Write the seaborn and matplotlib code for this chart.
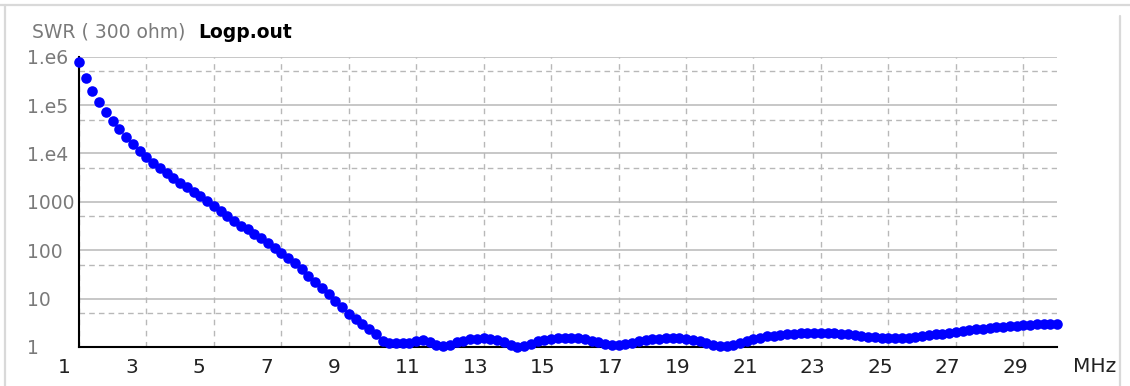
import numpy as np
import pandas as pd
import seaborn as sns
import matplotlib.pyplot as plt
import matplotlib.transforms as mtransforms
from matplotlib.lines import Line2D

# Frequency sweep 1.0 .. 30.0 MHz in 0.2 MHz steps
freq_mhz = [round(1.0 + 0.2 * i, 1) for i in range(146)]

swr = [
    776000, 363000, 195000, 115000, 70800, 47900, 32400, 21900, 15800, 11500,   # 1.0 - 2.8
    8500, 6460, 5010, 3980, 3090, 2450, 2000, 1580, 1320, 1020,                 # 3.0 - 4.8
    832, 646, 501, 398, 324, 269, 219, 178, 141, 112,                           # 5.0 - 6.8
    87, 69, 54, 40, 29, 21.9, 16.6, 12.3, 9.1, 6.6,                             # 7.0 - 8.8
    4.9, 3.8, 3.0, 2.34, 1.86, 1.35, 1.22, 1.21, 1.20, 1.22,                    # 9.0 - 10.8
    1.30, 1.38, 1.25, 1.10, 1.06, 1.12, 1.25, 1.35, 1.44, 1.48,                 # 11.0 - 12.8
    1.50, 1.48, 1.38, 1.25, 1.10, 1.02, 1.05, 1.18, 1.30, 1.40,                 # 13.0 - 14.8
    1.47, 1.50, 1.50, 1.50, 1.50, 1.46, 1.36, 1.24, 1.16, 1.12,                 # 15.0 - 16.8
    1.12, 1.15, 1.22, 1.30, 1.38, 1.44, 1.47, 1.50, 1.50, 1.50,                 # 17.0 - 18.8
    1.46, 1.40, 1.32, 1.22, 1.12, 1.04, 1.03, 1.10, 1.22, 1.35,                 # 19.0 - 20.8
    1.46, 1.56, 1.65, 1.72, 1.78, 1.84, 1.90, 1.94, 1.97, 1.98,                 # 21.0 - 22.8
    1.98, 1.97, 1.95, 1.90, 1.85, 1.77, 1.68, 1.62, 1.58, 1.56,                 # 23.0 - 24.8
    1.55, 1.55, 1.55, 1.56, 1.60, 1.66, 1.74, 1.82, 1.90, 1.98,                 # 25.0 - 26.8
    2.06, 2.14, 2.22, 2.30, 2.38, 2.46, 2.54, 2.62, 2.70, 2.78,                 # 27.0 - 28.8
    2.85, 2.91, 2.96, 3.00, 3.03, 3.05,                                         # 29.0 - 30.0
]

x_ticks = [1, 3, 5, 7, 9, 11, 13, 15, 17, 19, 21, 23, 25, 27, 29]
y_ticks = [1, 10, 100, 1000, 1e4, 1e5, 1e6]
y_tick_labels = ["1", "10", "100", "1000", "1.e4", "1.e5", "1.e6"]
y_half_ticks = [5, 50, 500, 5000, 5e4, 5e5]

df = pd.DataFrame({"MHz": freq_mhz, "SWR": swr})

sns.set_style("white")
plt.rcParams["font.family"] = ["DejaVu Sans"]

W, H = 1130, 386
fig = plt.figure(figsize=(W / 100, H / 100), dpi=100)
ax = fig.add_axes([79 / W, 1 - 347 / H, (1057 - 79) / W, (347 - 56.7) / H])

grid_col = "#b8b8b8"
ax.set_yscale("log")
ax.set_xlim(1, 30)
ax.set_ylim(1, 1e6)

ax.set_xticks(x_ticks)
ax.set_xticklabels([str(v) for v in x_ticks])
ax.set_yticks(y_ticks)
ax.set_yticklabels(y_tick_labels)
ax.set_yticks(y_half_ticks, minor=True)
ax.yaxis.set_minor_formatter(plt.NullFormatter())

ax.grid(True, which="major", axis="y", color=grid_col, lw=1.1, ls="-")
ax.grid(True, which="minor", axis="y", color=grid_col, lw=1.0, ls=(0, (4, 3)))
ax.grid(True, which="major", axis="x", color=grid_col, lw=1.0, ls=(0, (4, 4)))
ax.set_axisbelow(True)

ax.tick_params(axis="both", which="both", length=0)
ax.tick_params(axis="y", pad=52 * 0.72, labelsize=13.5, labelcolor="#7a7a7a")
ax.tick_params(axis="x", pad=8, labelsize=14.5, labelcolor="#222222")
for lab in ax.get_yticklabels():
    lab.set_ha("left")
shift = mtransforms.ScaledTranslation(-21 / 100, 0, fig.dpi_scale_trans)
for lab in ax.get_xticklabels():
    lab.set_ha("left")
    lab.set_transform(lab.get_transform() + shift)

for side in ("top", "right"):
    ax.spines[side].set_visible(False)
for side in ("left", "bottom"):
    ax.spines[side].set_color("black")
    ax.spines[side].set_linewidth(1.5)

sns.scatterplot(data=df, x="MHz", y="SWR", ax=ax, color="#0000ff", s=58,
                linewidth=0, clip_on=False, zorder=4, legend=False)
ax.set_xlabel("")
ax.set_ylabel("")

fig.text(1073 / W, 1 - 366 / H, "MHz", fontsize=14.5, color="#222222",
         ha="left", va="center")
fig.text(32 / W, 1 - 32 / H, "SWR ( 300 ohm)", fontsize=13.5, color="#7a7a7a",
         ha="left", va="center")
fig.text(198 / W, 1 - 32 / H, "Logp.out", fontsize=13.5, color="black",
         fontweight="bold", ha="left", va="center")

# Light panel border
border = "#d9d9d9"
fig.add_artist(Line2D([0, 1], [1 - 5 / H, 1 - 5 / H], color=border, lw=1.6,
                      transform=fig.transFigure))
fig.add_artist(Line2D([5 / W, 5 / W], [0, 1 - 5 / H], color=border, lw=1.6,
                      transform=fig.transFigure))
fig.add_artist(Line2D([1120 / W, 1120 / W], [0, 1 - 16 / H], color=border, lw=1.6,
                      transform=fig.transFigure))

fig.savefig("out.png", dpi=100)
